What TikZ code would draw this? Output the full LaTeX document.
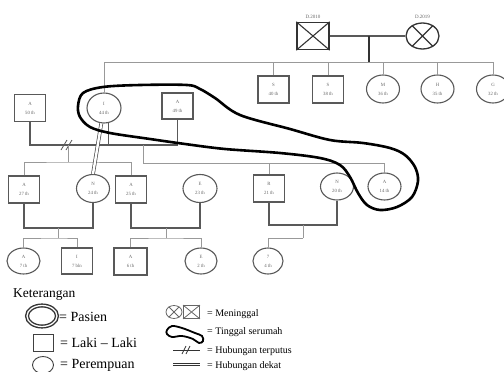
\documentclass[tikz,border=0pt]{standalone}
\usepackage{fontspec}
\setmainfont{Liberation Serif}
\usetikzlibrary{shapes.geometric}

\begin{document}
\begin{tikzpicture}
[
x=1pt,y=-1pt,
male/.style={rectangle,draw=black!65,line width=1.1pt,inner sep=0pt,
minimum width=31pt,minimum height=27pt,align=center,text=black!60,
font=\fontsize{4.8}{9}\selectfont},
female/.style={ellipse,draw=black!65,line width=1.1pt,inner sep=0pt,
minimum width=33pt,minimum height=28pt,align=center,text=black!60,
font=\fontsize{4.8}{9}\selectfont},
deadm/.style={rectangle,draw=black!80,line width=1.3pt,inner sep=0pt,
minimum width=32pt,minimum height=27pt},
deadf/.style={ellipse,draw=black!80,line width=1.3pt,inner sep=0pt,
minimum width=33pt,minimum height=26pt},
year/.style={font=\fontsize{5}{5}\selectfont,text=black!60},
kid/.style={black!40,line width=.9pt},
couple/.style={black!65,line width=1.1pt},
closeline/.style={black!70,line width=.7pt,double=white,double distance=2.4pt},
home/.style={black,line width=2.6pt},
keytext/.style={font=\fontsize{14}{14}\selectfont,anchor=base west,inner sep=0pt},
keysmall/.style={font=\fontsize{10}{10}\selectfont,anchor=base west,inner sep=0pt}
]
\useasboundingbox (0,0) rectangle (504,372);

\node[deadm,label={[year]above:D.2010}] (dad) at (313,36){ };
\node[deadf,label={[year]above:D.2019}] (mom) at (422.5,36){ };
\draw[black!80,line width=1.1pt] (dad.north west)--(dad.south east) (dad.north east)--(dad.south west);
\draw[black!80,line width=1.1pt] (mom.45)--(mom.225) (mom.135)--(mom.-45);
\draw[couple] (dad)--(mom);
\coordinate (wed) at (369,36);
\coordinate (top) at (369,62);
\draw[black!80,line width=2.6pt] (wed)--(top);

\node[male] (s40) at (273.5,89.5){S\\40 th};
\node[male] (s38) at (328,89.5){S\\38 th};
\node[female] (m36) at (383,89){M\\36 th};
\node[female] (h35) at (437.5,89){H\\35 th};
\node[female] (g32) at (493,89){G\\32 th};
\node[male] (a50) at (30,108){A\\50 th};
\node[female,minimum width=34pt,minimum height=30pt] (i44) at (104,108){I\\44 th};
\node[male,minimum height=26pt] (a49) at (177.5,106){A\\49 th};

\draw[kid] (i44.north) |- (top);
\draw[kid] (top) -| (g32.north);
\draw[kid] (s40.north)--(s40 |- top);
\draw[kid] (s38.north)--(s38 |- top);
\draw[kid] (m36.north)--(m36 |- top);
\draw[kid] (h35.north)--(h35 |- top);

\node[male] (a27) at (24,189.5){A\\27 th};
\node[female] (n24) at (93,188.5){N\\24 th};
\node[male] (a25) at (131,189.5){A\\25 th};
\node[female,minimum width=34pt] (e23) at (200,188.5){E\\23 th};
\node[male] (r21) at (269,188.5){R\\21 th};
\node[female,minimum height=27pt] (n20) at (337,186.5){N\\20 th};
\node[female,minimum height=27pt] (a14) at (384.5,186.5){A\\14 th};

\coordinate (w1) at (108,145);
\draw[couple] (a50.south) |- (w1) -| (a49.south);
\draw[couple] (i44.-75)--(i44.-75 |- w1);
\draw[couple,line width=.8pt] (61,150)--(67,140) (66,150)--(72,140);
\coordinate (f1) at (68,145);
\coordinate (s1) at (68,162);
\draw[kid] (f1)--(s1);
\draw[kid] (a27.north) |- (s1) -| (a25.north);
\coordinate (f2) at (143,145);
\coordinate (s2) at (143,163);
\draw[kid] (f2)--(s2);
\draw[kid] (s2) -| (a14.north);
\draw[kid] (r21.north)--(r21 |- s2);
\draw[closeline] (i44.260)--(n24.north);

\node[female,minimum height=26pt] (a7) at (23.5,261){A\\7 th};
\node[male,minimum height=26pt] (i7) at (77,261){I\\7 bln};
\node[male,minimum width=33pt] (a6) at (130.5,261.5){A\\6 th};
\node[female,minimum width=32pt,minimum height=26pt] (e2) at (201,261){E\\2 th};
\node[female,minimum width=30pt,minimum height=26pt] (c4) at (268,261){7\\4 th};

\coordinate (w2) at (58,228);
\coordinate (t2) at (58,238);
\draw[couple] (a27.south) |- (w2) -| (n24.south);
\draw[kid] (w2)--(t2);
\draw[kid] (a7.north) |- (t2) -| (i7.north);
\coordinate (w3) at (166,228);
\coordinate (t3) at (166,238);
\draw[couple] (a25.south) |- (w3) -| (e23.south);
\draw[kid] (w3)--(t3);
\draw[kid] (a6.north) |- (t3) -| (e2.north);
\coordinate (w4) at (303,225);
\coordinate (t4) at (303,238);
\draw[couple] (r21.south) |- (w4) -| (n20.south);
\draw[kid] (w4)--(t4);
\draw[kid] (t4) -| (c4.north);

\draw[home] plot[smooth cycle,tension=.55] coordinates{(78,106) (83,93) (103,87) (140,85)
(187,85) (200,89) (215,98) (240,115) (290,129) (330,140) (363,143) (390,148) (405,155)
(415,167) (418,181) (412,197) (397,207) (380,210) (367,205) (358,193) (350,177) (340,165)
(320,158) (280,153) (225,149) (185,144) (150,139) (110,133) (90,127) (80,117)};

\node[anchor=base west,inner sep=0pt,font=\fontsize{13.5}{14}\selectfont] (keter) at (13,297){Keterangan};
\node[ellipse,draw=black!80,line width=1.4pt,double,double distance=1.3pt,
minimum width=30pt,minimum height=21pt] (kpas) at (42,316){ };
\node[keytext] (tpas) at (59,321){= Pasien};
\node[rectangle,draw=black!75,line width=.9pt,minimum width=20pt,minimum height=17pt] (klaki) at (43,343){ };
\node[keytext] (tlaki) at (60,347){= Laki -- Laki};
\node[ellipse,draw=black!75,line width=.9pt,minimum width=21pt,minimum height=17pt] (kper) at (43,365){ };
\node[keytext] (tper) at (60,368){= Perempuan};

\node[ellipse,draw=black!60,line width=.8pt,inner sep=0pt,minimum width=16pt,minimum height=13pt] (kdf) at (174,312){ };
\node[rectangle,draw=black!60,line width=.8pt,inner sep=0pt,minimum width=16pt,minimum height=13pt] (kdm) at (191.5,312){ };
\draw[black!60,line width=.8pt] (kdf.45)--(kdf.225) (kdf.135)--(kdf.-45);
\draw[black!60,line width=.8pt] (kdm.north west)--(kdm.south east) (kdm.north east)--(kdm.south west);
\node[keysmall] (tmen) at (207,316){= Meninggal};
\draw[black,line width=1.8pt] plot[smooth cycle,tension=.6] coordinates{(167,330) (172,326)
(182,328) (195,333) (202,336) (203,341) (199,343) (193,339) (182,336) (172,337) (167,334)};
\node[keysmall] (tting) at (207,334){= Tinggal serumah};
\coordinate (pa) at (173,350);
\coordinate (pb) at (200,350);
\draw[black!80,line width=.8pt] (pa)--(pb);
\draw[black!80,line width=.7pt] (182,354)--(186,346) (186,354)--(190,346);
\node[keysmall] (tput) at (207,353){= Hubungan terputus};
\coordinate (qa) at (173,364.5);
\coordinate (qb) at (200,364.5);
\draw[black!80,line width=.9pt,double=white,double distance=1.4pt] (qa)--(qb);
\node[keysmall] (tdek) at (207,368){= Hubungan dekat};
\end{tikzpicture}
\end{document}
